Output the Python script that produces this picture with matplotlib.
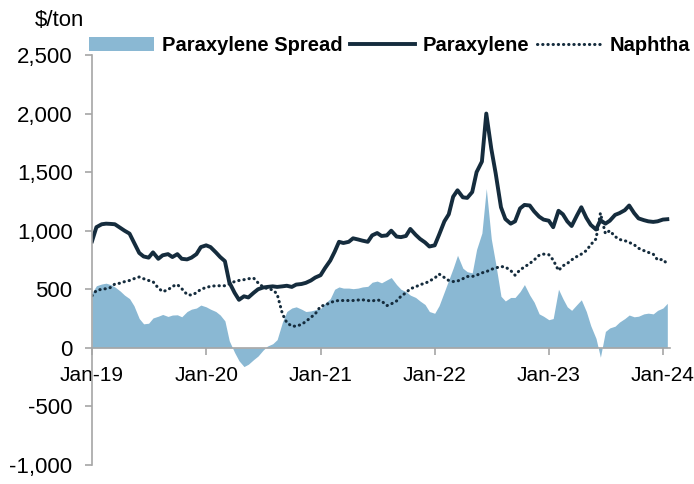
import numpy as np
import pandas as pd
import matplotlib
matplotlib.use("Agg")
import matplotlib.pyplot as plt
import matplotlib.dates as mdates
from matplotlib.ticker import FuncFormatter

plt.rcParams['font.family'] = ['Liberation Sans', 'DejaVu Sans']

# semi-monthly observations, Jan-2019 .. Jan-2024 ($/ton)
dates = pd.date_range('2019-01-01', periods=122, freq='SMS')

paraxylene = [910, 1030, 1055, 1060, 1058, 1055, 1025, 1000, 975, 900, 810, 780,
              770, 815, 760, 790, 800, 775, 800, 760, 755, 770, 800, 860,
              875, 860, 815, 775, 740, 560, 470, 410, 440, 430, 470, 500,
              515, 520, 525, 520, 525, 530, 520, 540, 545, 555, 575, 600,
              620, 680, 745, 820, 905, 895, 905, 935, 925, 915, 905, 960,
              980, 955, 960, 1000, 950, 945, 955, 1015, 965, 930, 900, 865,
              875, 965, 1080, 1140, 1290, 1345, 1285, 1280, 1330, 1500, 1590, 2000,
              1700, 1490, 1200, 1100, 1060, 1080, 1190, 1220, 1215, 1165, 1120, 1095,
              1085, 1030, 1170, 1140, 1080, 1040, 1130, 1200, 1110, 1050, 1010, 1090,
              1060, 1085, 1135, 1150, 1175, 1215, 1150, 1105, 1090, 1080, 1075, 1080,
              1095, 1098]

naphtha = [445, 490, 500, 505, 515, 545, 552, 565, 575, 590, 605, 590,
           575, 565, 510, 480, 495, 525, 540, 505, 455, 450, 470, 500,
           515, 525, 530, 530, 530, 545, 566, 575, 582, 590, 595, 555,
           520, 505, 495, 460, 290, 215, 185, 185, 200, 225, 260, 290,
           355, 365, 385, 400, 404, 404, 404, 404, 408, 410, 404, 400,
           410, 400, 360, 375, 400, 440, 470, 505, 520, 540, 550, 570,
           595, 630, 600, 575, 566, 570, 590, 609, 609, 620, 640, 650,
           670, 682, 694, 690, 660, 620, 666, 690, 720, 750, 790, 800,
           795, 750, 660, 700, 720, 751, 780, 800, 830, 880, 930, 1150,
           975, 1000, 950, 925, 915, 900, 880, 850, 830, 815, 800, 750,
           755, 715]

spread = [470, 530, 545, 552, 540, 520, 485, 450, 420, 360, 250, 205,
          210, 255, 270, 285, 268, 280, 282, 265, 310, 330, 340, 365,
          350, 330, 310, 280, 230, 60, -40, -110, -160, -140, -100, -70,
          -20, 15, 35, 70, 220, 310, 340, 350, 330, 310, 315, 325,
          335, 380, 420, 500, 520, 510, 510, 505, 510, 520, 525, 560,
          570, 555, 580, 600, 540, 500, 480, 450, 430, 400, 370, 310,
          295, 360, 480, 580, 680, 790, 680, 650, 640, 840, 980, 1360,
          930, 720, 440, 400, 430, 430, 480, 540, 450, 390, 290, 270,
          240, 250, 500, 420, 350, 320, 370, 410, 310, 190, 80, -80,
          140, 170, 185, 220, 250, 280, 265, 270, 290, 296, 290, 320,
          340, 380]

navy = '#152C3D'
blue = '#8AB8D3'
grey = '#A6A6A6'

fig = plt.figure(figsize=(6.94, 4.84), dpi=100)
ax = fig.add_axes([0.1326, 0.0393, 0.8330, 0.8471])

ax.fill_between(dates, spread, 0, color=blue, lw=0, label='Paraxylene Spread')
ax.plot(dates, paraxylene, color=navy, lw=2.8, label='Paraxylene')
ax.plot(dates, naphtha, color=navy, lw=2.2, linestyle=(0, (0.1, 1.6)),
        dash_capstyle='round', label='Naphtha')

ax.set_ylim(-1000, 2500)
ax.set_yticks(np.arange(-1000, 2501, 500))
ax.yaxis.set_major_formatter(FuncFormatter(lambda v, p: f'{v:,.0f}'))
ax.set_xlim(pd.Timestamp('2019-01-01'), pd.Timestamp('2024-01-24'))
ax.set_xticks(pd.date_range('2019-01-01', '2024-01-01', freq='YS'))
ax.xaxis.set_major_formatter(mdates.DateFormatter('%b-%y'))

for s in ['top', 'right']:
    ax.spines[s].set_visible(False)
ax.spines['left'].set_color(grey)
ax.spines['bottom'].set_color(grey)
ax.spines['bottom'].set_position(('data', 0))
ax.spines['left'].set_linewidth(1.2)
ax.spines['bottom'].set_linewidth(1.2)
ax.tick_params(axis='both', colors=grey, labelcolor='black',
               length=5, width=1.2, direction='out')
ax.tick_params(axis='y', labelsize=16, pad=9)
ax.tick_params(axis='x', labelsize=15, pad=8)

fig.text(0.05, 0.958, '$/ton', fontsize=16, ha='left', va='center')

ax.legend(loc='lower left', bbox_to_anchor=(-0.005, 1.0), ncol=3, frameon=False,
          prop={'weight': 'bold', 'size': 14.5}, handlelength=3.2,
          handletextpad=0.4, columnspacing=0.4, borderaxespad=0, borderpad=0)

fig.savefig('out.png', dpi=100)
